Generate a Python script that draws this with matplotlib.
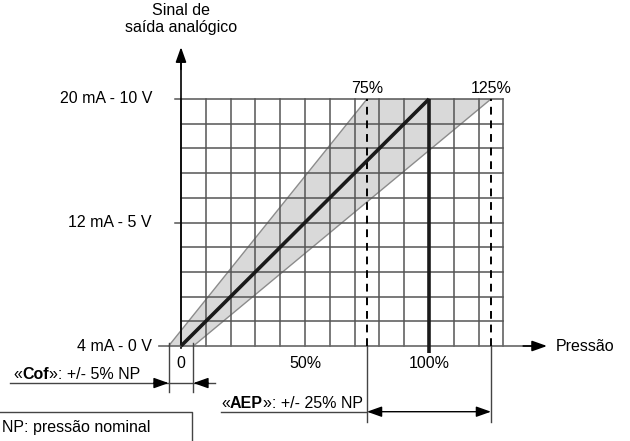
import matplotlib
matplotlib.use("Agg")
import matplotlib.pyplot as plt
from matplotlib import transforms

plt.rcParams['font.family'] = ['Liberation Sans', 'DejaVu Sans']

# ---- data ----
grid_x = list(range(0, 131, 10))          # pressure %, grid columns
grid_y = list(range(0, 101, 10))          # signal %, grid rows
ideal_x = [0, 100]
ideal_y = [0, 100]
cof = 5                                   # +/- % NP at zero
aep = 25                                  # +/- % NP at full scale
band_upper_x = [-cof, 100 - aep]
band_lower_x = [cof, 100 + aep]
band_y = [0, 100]
ytick_vals = [100, 50, 0]
ytick_labels = ["20 mA - 10 V", "12 mA - 5 V", "4 mA - 0 V"]
xtick_vals = [0, 50, 100]
xtick_labels = ["0", "50%", "100%"]
dashed_x = [100 - aep, 100 + aep]
top_labels = ["75%", "125%"]

FS = 11.5
fig = plt.figure(figsize=(6.30, 4.41), dpi=100)
ax = fig.add_axes([0, 0, 1, 1])
ax.set_xlim(-72.98, 181.05)
ax.set_ylim(-38.46, 140.08)
ax.axis('off')

HEAD = '-|>,head_length=0.45,head_width=0.16'

def arrow(tip, tail, style=HEAD, lw=1.0):
    ax.annotate('', xy=tip, xytext=tail, zorder=5,
                arrowprops=dict(arrowstyle=style, mutation_scale=20,
                                color='black', lw=lw, shrinkA=0, shrinkB=0))

def rich(x, y, parts):
    r = fig.canvas.get_renderer()
    trans = ax.transData
    for s, w in parts:
        tx = ax.text(x, y, s, ha='left', va='baseline', fontsize=FS,
                     fontweight=w, transform=trans)
        ex = tx.get_window_extent(renderer=r)
        trans = transforms.offset_copy(tx.get_transform(), fig=fig,
                                       x=ex.width, units='dots')

# band
poly_x = [band_upper_x[0], band_upper_x[1], band_lower_x[1], band_lower_x[0]]
poly_y = [band_y[0], band_y[1], band_y[1], band_y[0]]
ax.fill(poly_x, poly_y, color='#d9d9d9', lw=0, zorder=1)
ax.plot(band_upper_x, band_y, color='#8c8c8c', lw=1, zorder=2)
ax.plot(band_lower_x, band_y, color='#8c8c8c', lw=1, zorder=2)

# grid
gc = '#555555'
for gx in grid_x:
    ax.plot([gx, gx], [0, 100], color=gc, lw=1.1, zorder=3)
for gy in grid_y[1:]:
    ax.plot([0, 130], [gy, gy], color=gc, lw=1.1, zorder=3)
for yv in ytick_vals[:2]:
    ax.plot([-2.4, 0], [yv, yv], color=gc, lw=1.1, zorder=3)

# y axis with arrow
ax.plot([0, 0], [-1, 115], color='black', lw=1.2, zorder=4)
arrow((0, 121.0), (0, 112), lw=1.2)
ax.text(0, 132.4, "Sinal de\nsaída analógico", ha='center', va='center',
        fontsize=FS, linespacing=1.15)

# x axis with arrow
ax.plot([-8.9, 142], [0, 0], color='#666666', lw=1.2, zorder=4)
arrow((147.6, 0), (138, 0), lw=1.2)
ax.text(151.2, 0, "Pressão", ha='left', va='center', fontsize=FS)

# tick labels
for yv, lab in zip(ytick_vals, ytick_labels):
    ax.text(-11.7, yv, lab, ha='right', va='center', fontsize=FS)
for xv, lab in zip(xtick_vals, xtick_labels):
    ax.text(xv, -6.9, lab, ha='center', va='center', fontsize=FS)

# dashed 75% / 125%
for xv, lab in zip(dashed_x, top_labels):
    ax.plot([xv, xv], [0, 100], color='black', lw=1.4, ls=(0, (4, 3)), zorder=5)
    ax.text(xv, 104.2, lab, ha='center', va='center', fontsize=FS)

# ideal line and 100% vertical
ax.plot(ideal_x, ideal_y, color='#1a1a1a', lw=2.6, zorder=6, solid_capstyle='butt')
ax.plot([100, 100], [-2.8, 100], color='#1a1a1a', lw=2.6, zorder=6, solid_capstyle='butt')

# ---- Cof dimension ----
dim_c = '#444444'
for xv in (-cof, cof):
    ax.plot([xv, xv], [1.2, -18.6], color=dim_c, lw=1, zorder=4)
cy = -15.0
ax.plot([-69.0, 13.7], [cy, cy], color=dim_c, lw=1)
arrow((-cof, cy), (-cof - 6, cy))
arrow((cof, cy), (cof + 6, cy))
rich(-67.7, -13.2, [("«", 'normal'), ("Cof", 'bold'), ("»: +/- 5% NP", 'normal')])

# ---- AEP dimension ----
for xv in dashed_x:
    ax.plot([xv, xv], [0, -30.8], color=dim_c, lw=1, zorder=4)
ay = -26.6
ax.plot([16.1, dashed_x[0]], [ay, ay], color=dim_c, lw=1)
arrow((dashed_x[0], ay), (dashed_x[1], ay),
      style='<|-|>,head_length=0.45,head_width=0.16')
rich(16.1, -25.1, [("«", 'normal'), ("AEP", 'bold'), ("»: +/- 25% NP", 'normal')])

# ---- NP box ----
ax.plot([-73, 4.4, 4.4], [-26.7, -26.7, -40], color=dim_c, lw=1)
ax.text(-72.2, -34.8, "NP: pressão nominal", ha='left', va='baseline', fontsize=FS)

fig.savefig("out.png", dpi=100)
